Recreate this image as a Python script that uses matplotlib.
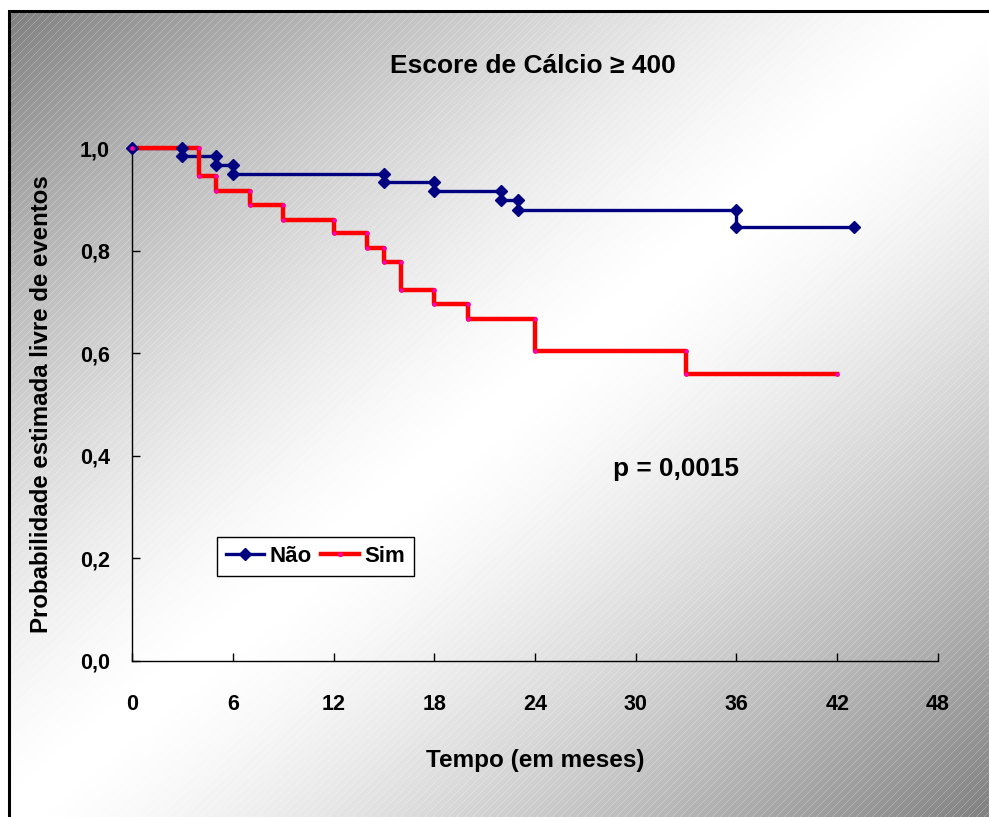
import numpy as np
import matplotlib
matplotlib.use("Agg")
import matplotlib.pyplot as plt
from matplotlib.lines import Line2D
from matplotlib.patches import Rectangle

plt.rcParams['font.family'] = ['Liberation Sans', 'DejaVu Sans']
plt.rcParams['font.weight'] = 'bold'

# Kaplan-Meier data (time of event, survival after event)
nao_t = [3, 5, 6, 15, 18, 22, 23, 36]
nao_s = [0.984, 0.967, 0.949, 0.934, 0.916, 0.899, 0.879, 0.846]
nao_fim = 43

sim_t = [4, 5, 7, 9, 12, 14, 15, 16, 18, 20, 24, 33]
sim_s = [0.945, 0.917, 0.889, 0.860, 0.835, 0.806, 0.778, 0.723, 0.695, 0.666, 0.604, 0.560]
sim_fim = 42

xticks = [0, 6, 12, 18, 24, 30, 36, 42, 48]
yticks = [0.0, 0.2, 0.4, 0.6, 0.8, 1.0]
ytick_labels = ['0,0', '0,2', '0,4', '0,6', '0,8', '1,0']


def steps(t, s, fim):
    prev = [1.0] + s[:-1]
    x = [0]
    y = [1.0]
    for ti, p, c in zip(t, prev, s):
        x += [ti, ti]
        y += [p, c]
    x.append(fim)
    y.append(s[-1])
    return np.array(x), np.array(y)


W, H = 989, 817
fig = plt.figure(figsize=(W / 100, H / 100), dpi=100)

# background: diagonal gradient with light hatch, inside a black frame
fx0, fy0 = 9, 11
yy, xx = np.mgrid[0:H, 0:W].astype(float)
u = (xx - fx0) / (W - fx0)
v = (yy - fy0) / (H - fy0)
d = np.clip(np.abs(u + v - 1), 0, 1)
img = 1 - 0.5 * d ** 1.4
hatch = ((xx + yy) % 8) < 1
img = np.where(hatch, img + (1 - img) * 0.25, img)
img[(xx < fx0) | (yy < fy0)] = 1.0
bg = fig.add_axes([0, 0, 1, 1], zorder=-1)
bg.imshow(img, cmap='gray', vmin=0, vmax=1, interpolation='nearest', aspect='auto')
bg.axis('off')
fig.patches.append(Rectangle((fx0 / W, -0.01), 1.0, 1 - fy0 / H + 0.01, transform=fig.transFigure,
                             fill=False, edgecolor='black', linewidth=2.2))

ax = fig.add_axes([132 / W, 1 - 661 / H, 806 / W, 513 / H])
ax.set_facecolor('none')

nx, ny = steps(nao_t, nao_s, nao_fim)
sx, sy = steps(sim_t, sim_s, sim_fim)

blue = '#000080'
red = '#ff0000'
ax.plot(nx, ny, color=blue, lw=2.4, zorder=3, clip_on=False)
ax.plot(sx, sy, color=red, lw=3.2, zorder=4, clip_on=False)
ax.plot(nx, ny, ls='none', marker='D', ms=6, color=blue, zorder=5, clip_on=False)
ax.plot(sx, sy, ls='none', marker='o', ms=2.8, mfc='#ff00cc', mec='#ff0066', mew=0.5,
        zorder=6, clip_on=False)

ax.set_xlim(0, 48)
ax.set_ylim(0, 1.0)
ax.set_xticks(xticks)
ax.set_yticks(yticks)
ax.set_yticklabels(ytick_labels)
for sp in ['top', 'right']:
    ax.spines[sp].set_visible(False)
for sp in ['left', 'bottom']:
    ax.spines[sp].set_linewidth(1.0)
ax.tick_params(axis='x', direction='in', length=6, width=1, pad=24, labelsize=15.5)
ax.tick_params(axis='y', direction='in', length=6, width=1, pad=16, labelsize=15.5)
for lab in ax.get_xticklabels() + ax.get_yticklabels():
    lab.set_fontweight('bold')

fig.text(533 / W, 1 - 66 / H, 'Escore de Cálcio ≥ 400', ha='center', va='center',
         fontsize=19, fontweight='bold')
fig.text(42 / W, 1 - 404 / H, 'Probabilidade estimada livre de eventos', ha='center', va='center',
         rotation=90, fontsize=17.3, fontweight='bold')
fig.text(535 / W, 1 - 760 / H, 'Tempo (em meses)', ha='center', va='center',
         fontsize=17.5, fontweight='bold')
fig.text(676 / W, 1 - 469 / H, 'p = 0,0015', ha='center', va='center',
         fontsize=18.8, fontweight='bold')

handles = [Line2D([], [], color=blue, lw=2.4, marker='D', ms=6),
           Line2D([], [], color=red, lw=3.2, marker='o', ms=2.8, mfc='#ff00cc', mec='#ff0066')]
leg = fig.legend(handles, ['Não', 'Sim'], loc='upper left', bbox_to_anchor=(217 / W, 1 - 537 / H),
                 ncol=2, frameon=True, fancybox=False, edgecolor='black', facecolor='white',
                 framealpha=1, borderaxespad=0, borderpad=0.4, handlelength=1.7,
                 handletextpad=0.25, columnspacing=0.45, prop={'size': 16, 'weight': 'bold'})
leg.get_frame().set_linewidth(1.0)

fig.savefig('out.png', dpi=100)
